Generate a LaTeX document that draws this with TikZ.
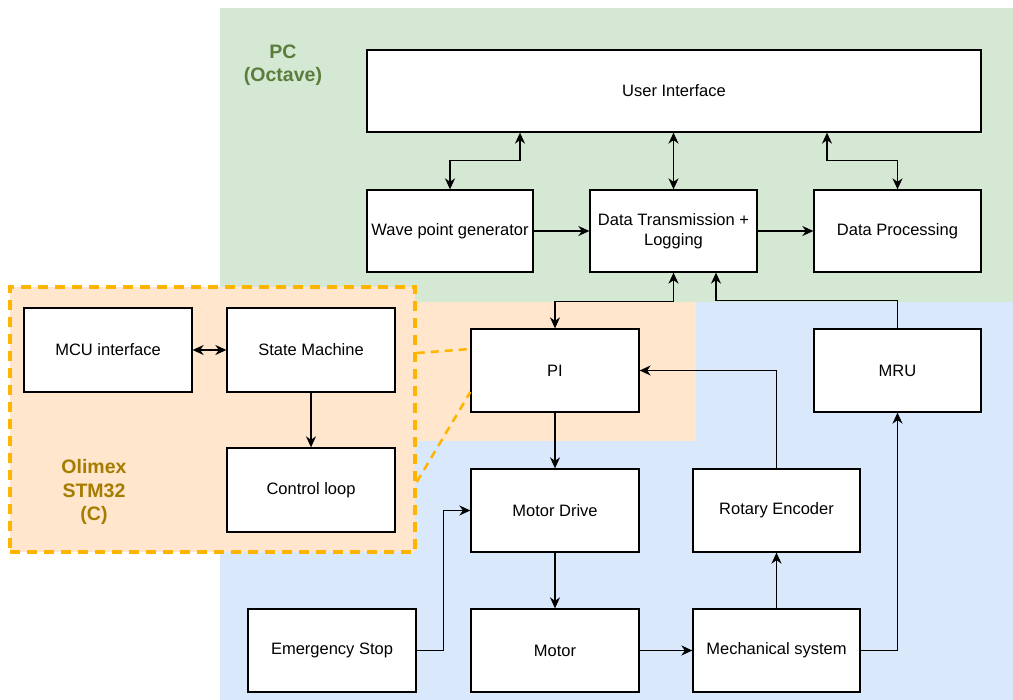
\documentclass[tikz,border=0pt]{standalone}
\usepackage{fontspec}
\setmainfont{Liberation Sans}
\usetikzlibrary{arrows.meta, positioning}
\definecolor{pcgreen}{RGB}{213,232,212}
\definecolor{hwblue}{RGB}{218,232,252}
\definecolor{mcuorange}{RGB}{255,230,204}
\definecolor{dashamber}{RGB}{255,180,0}
\definecolor{pctext}{RGB}{90,125,60}
\definecolor{mcutext}{RGB}{166,124,0}

\begin{document}
\begin{tikzpicture}[x=1pt, y=-1pt, font=\fontsize{16.5}{19.5}\selectfont,
  box/.style={draw, fill=white, line width=1.3pt, minimum width=168pt, minimum height=83pt, align=center, inner sep=2pt},
  arr/.style={line width=1.4pt, -{Stealth[length=11pt, width=10pt, inset=3.5pt]}},
  dbl/.style={line width=1.4pt, {Stealth[length=11pt, width=10pt, inset=3.5pt]}-{Stealth[length=11pt, width=10pt, inset=3.5pt]}},
  zonelabel/.style={font=\fontsize{19.5}{23.5}\selectfont\bfseries, align=center},
  link/.style={dashamber, line width=2.5pt, dash pattern=on 8pt off 6pt}]
\useasboundingbox (0,0) rectangle (1013,700);
% zones
\fill[pcgreen] (220,8) rectangle (1013,302);
\fill[hwblue] (220,302) rectangle (1013,700);
\fill[mcuorange] (220,302) rectangle (696,441);
\node[draw=dashamber, fill=mcuorange, line width=3.5pt, dash pattern=on 10pt off 7pt, minimum width=405pt, minimum height=265pt] (olimex) at (212.5,419.5) {};
\node[zonelabel, text=pctext] (pclabel) at (283,65) {PC\\(Octave)};
\node[zonelabel, text=mcutext] (mculabel) at (94,492) {Olimex\\STM32\\(C)};

% PC
\node[box, minimum width=614pt, minimum height=82pt] (ui) at (674,91) {User Interface};
\node[box, minimum width=166pt, minimum height=82pt] (wave) at (450,231) {Wave point generator};
\node[box, minimum width=167pt, minimum height=82pt] (dt) at (673.5,231) {Data Transmission +\\Logging};
\node[box, minimum width=167pt, minimum height=82pt] (dp) at (897.5,231) {Data Processing};

% MCU
\node[box, minimum height=84pt] (mcu) at (108,350) {MCU interface};
\node[box, minimum height=84pt] (sm) at (311,350) {State Machine};
\node[box, minimum height=84pt] (cl) at (311,490) {Control loop};

% hardware
\node[box] (pi) at (555,370.5) {PI};
\node[box] (md) at (555,510.5) {Motor Drive};
\node[box, minimum width=167pt] (re) at (776.5,510.5) {Rotary Encoder};
\node[box, minimum width=167pt] (mru) at (897.5,370.5) {MRU};
\node[box] (es) at (332,650.5) {Emergency Stop};
\node[box] (motor) at (555,650.5) {Motor};
\node[box, minimum width=167pt] (mech) at (776.5,650.5) {Mechanical system};

% connectors
\draw[dbl] ([xshift=-154pt]ui.south) -- ++(0,28) -| (wave.north);
\draw[dbl] (ui.south -| dt.north) -- (dt.north);
\draw[dbl] ([xshift=153pt]ui.south) -- ++(0,28) -| (dp.north);
\draw[arr] (wave.east) -- (dt.west);
\draw[arr] (dt.east) -- (dp.west);
\draw[dbl] (dt.south) -- ++(0,29) -| (pi.north);
\draw[arr] (mru.north) -- ++(0,-28) -| ([xshift=42.5pt]dt.south);
\draw[dbl] (mcu.east) -- (sm.west);
\draw[arr] (sm.south) -- (cl.north);
\draw[arr] (pi.south) -- (md.north);
\draw[arr] (md.south) -- (motor.north);
\draw[arr] (motor.east) -- (mech.west);
\draw[arr] (mech.north) -- (re.south);
\draw[arr] (re.north) |- (pi.east);
\draw[arr] (mech.east) -| (mru.south);
\draw[arr] (es.east) -- ++(27,0) |- (md.west);
\draw[link] ([yshift=66.5pt]olimex.east) -- ([yshift=21.5pt]pi.west);
\draw[link] ([yshift=-62.5pt]olimex.east) -- ([yshift=-21.5pt]pi.west);
\end{tikzpicture}
\end{document}
